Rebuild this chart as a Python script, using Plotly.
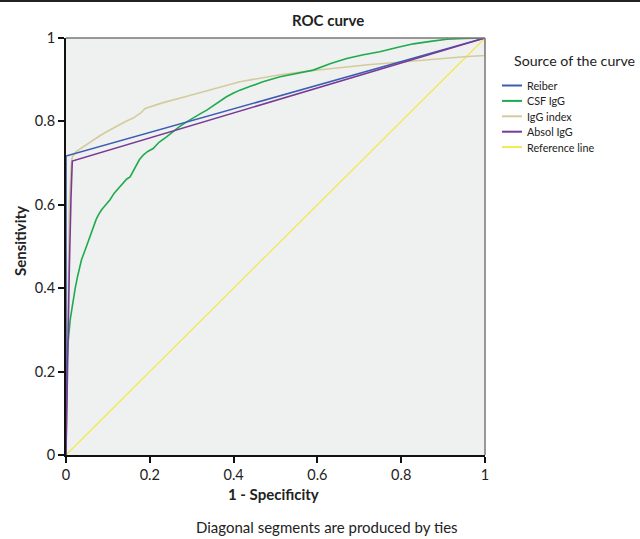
import plotly.graph_objects as go

# ---- data ----
reiber_x = [0, 0, 1]
reiber_y = [0, 0.717, 1]

absol_x = [0, 0.003, 0.008, 0.012, 0.015, 1]
absol_y = [0, 0.20, 0.45, 0.62, 0.705, 1]

igg_index_x = [0, 0.004, 0.008, 0.012, 0.015, 0.025, 0.041, 0.06, 0.08, 0.097, 0.12, 0.141,
               0.16, 0.177, 0.189, 0.21, 0.232, 0.28, 0.33, 0.37, 0.415, 0.46, 0.511,
               0.58, 0.65, 0.72, 0.773, 0.84, 0.9, 0.95, 1, 1]
igg_index_y = [0, 0.35, 0.60, 0.69, 0.715, 0.728, 0.739, 0.752, 0.765, 0.775, 0.788, 0.799,
               0.808, 0.819, 0.831, 0.838, 0.845, 0.858, 0.872, 0.884, 0.895, 0.903, 0.912,
               0.921, 0.929, 0.936, 0.940, 0.946, 0.951, 0.955, 0.958, 1]

csf_x = [0, 0.001, 0.002, 0.004, 0.006, 0.01, 0.014, 0.017, 0.022, 0.028, 0.033, 0.037,
         0.045, 0.052, 0.057, 0.065, 0.072, 0.078, 0.085, 0.095, 0.105, 0.115, 0.125,
         0.135, 0.145, 0.153, 0.165, 0.175, 0.185, 0.195, 0.208, 0.222, 0.240, 0.255,
         0.270, 0.288, 0.305, 0.320, 0.336, 0.36, 0.383, 0.40, 0.415, 0.44, 0.47,
         0.511, 0.55, 0.590, 0.63, 0.670, 0.71, 0.749, 0.79, 0.829, 0.87, 0.909, 0.95, 1]
csf_y = [0, 0.12, 0.20, 0.26, 0.29, 0.324, 0.350, 0.372, 0.400, 0.430, 0.450, 0.468,
         0.490, 0.510, 0.524, 0.545, 0.565, 0.577, 0.588, 0.600, 0.612, 0.628, 0.640,
         0.652, 0.662, 0.667, 0.690, 0.708, 0.720, 0.728, 0.735, 0.750, 0.763, 0.775,
         0.787, 0.799, 0.810, 0.818, 0.827, 0.843, 0.859, 0.868, 0.875, 0.884, 0.895,
         0.907, 0.914, 0.923, 0.938, 0.951, 0.960, 0.967, 0.977, 0.986, 0.992, 0.997, 0.999, 1]

ref_x = [0, 1]
ref_y = [0, 1]

tick_vals = [0, 0.2, 0.4, 0.6, 0.8, 1]
tick_text = ["0", "0.2", "0.4", "0.6", "0.8", "1"]

legend_names = ["Reiber", "CSF IgG", "IgG index", "Absol IgG", "Reference line"]

FONT = "Lato, Roboto, sans-serif"
COLORS = {"Reiber": "#3b5db3", "CSF IgG": "#1faa4d", "IgG index": "#d4cb9c",
          "Absol IgG": "#7a3a94", "Reference line": "#f3e850"}

W, H = 640, 539
L, R, T, B = 66, 155, 38, 84
PW, PH = W - L - R, H - T - B


def px(xp):
    return (xp - L) / PW


def py(yp):
    return (H - B - yp) / PH


fig = go.Figure()
series = [("Reference line", ref_x, ref_y, 1.3), ("IgG index", igg_index_x, igg_index_y, 1.6),
          ("CSF IgG", csf_x, csf_y, 1.6), ("Reiber", reiber_x, reiber_y, 1.6),
          ("Absol IgG", absol_x, absol_y, 1.6)]
for name, xs, ys, w in series:
    fig.add_trace(go.Scatter(x=xs, y=ys, mode="lines", name=name, showlegend=False,
                             line=dict(color=COLORS[name], width=w)))

fig.update_layout(
    width=W, height=H,
    margin=dict(l=L, r=R, t=T, b=B),
    paper_bgcolor="white",
    plot_bgcolor="#eff1f0",
    font=dict(family=FONT, size=14, color="#222"),
    showlegend=False,
)
axis_style = dict(range=[0, 1], tickvals=tick_vals, ticktext=tick_text,
                  showgrid=False, zeroline=False, showline=True, linecolor="#111", linewidth=2,
                  ticks="outside", ticklen=6, tickcolor="#111", tickwidth=1.5,
                  tickfont=dict(family=FONT, size=14.5, color="#222"))
fig.update_xaxes(**axis_style)
fig.update_yaxes(**axis_style)

# grey top/right border
fig.add_shape(type="line", xref="paper", yref="paper", x0=0, x1=1, y0=1, y1=1,
              line=dict(color="#777", width=1.5))
fig.add_shape(type="line", xref="paper", yref="paper", x0=1, x1=1, y0=0, y1=1,
              line=dict(color="#777", width=1.5))
# dark rule along the top of the image
fig.add_shape(type="line", xref="paper", yref="paper", x0=px(0), x1=px(W),
              y0=py(1), y1=py(1), line=dict(color="#222", width=2))

fig.add_annotation(text="<b>ROC curve</b>", xref="paper", yref="paper",
                   x=px(328), y=py(20), xanchor="center", yanchor="middle",
                   showarrow=False, font=dict(family=FONT, size=15, color="#222"))
fig.add_annotation(text="<b>Sensitivity</b>", xref="paper", yref="paper",
                   x=px(20), y=py(241), xanchor="center", yanchor="middle",
                   textangle=-90, showarrow=False, font=dict(family=FONT, size=15, color="#222"))
fig.add_annotation(text="<b>1 - Specificity</b>", xref="paper", yref="paper",
                   x=px(273), y=py(494), xanchor="center", yanchor="middle",
                   showarrow=False, font=dict(family=FONT, size=15, color="#222"))
fig.add_annotation(text="Diagonal segments are produced by ties", xref="paper", yref="paper",
                   x=px(327), y=py(527), xanchor="center", yanchor="middle",
                   showarrow=False, font=dict(family=FONT, size=15, color="#222"))
fig.add_annotation(text="Source of the curve", xref="paper", yref="paper",
                   x=px(512), y=py(60), xanchor="left", yanchor="middle",
                   showarrow=False, font=dict(family=FONT, size=14.2, color="#222"))

# manual legend
leg_y0, leg_dy = 85.5, 15.4
for i, name in enumerate(legend_names):
    yy = py(leg_y0 + i * leg_dy)
    fig.add_shape(type="line", xref="paper", yref="paper", x0=px(502), x1=px(522),
                  y0=yy, y1=yy, line=dict(color=COLORS[name], width=2))
    fig.add_annotation(text=name, xref="paper", yref="paper", x=px(525), y=yy,
                       xanchor="left", yanchor="middle", showarrow=False,
                       font=dict(family=FONT, size=10.8, color="#222"))

fig.write_html("out.html", config={"displayModeBar": False},
               post_script="document.body.style.margin='0';")
